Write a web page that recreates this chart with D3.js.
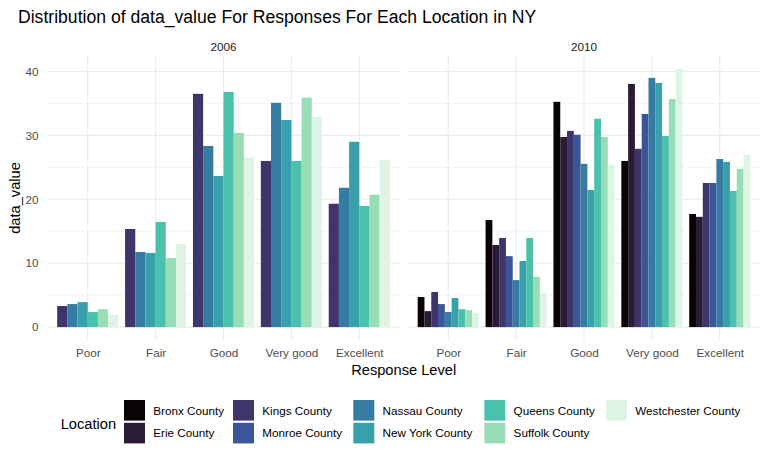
<!DOCTYPE html>
<html>
<head>
<meta charset="utf-8">
<script src="https://cdn.jsdelivr.net/npm/d3@7"></script>
<style>
  html, body { margin: 0; padding: 0; background: #ffffff; }
  svg { display: block; font-family: "Liberation Sans", Arial, sans-serif; }
</style>
</head>
<body>
<svg id="chart" width="768" height="460"></svg>
<script>
// ---------------- DATA ----------------
const responses = ["Poor", "Fair", "Good", "Very good", "Excellent"];
const years = ["2006", "2010"];
const locations = ["Bronx County", "Erie County", "Kings County", "Monroe County", "Nassau County",
                   "New York County", "Queens County", "Suffolk County", "Westchester County"];
const locationColors = ["#0B0405", "#2B1C35", "#3E356B", "#3B5698", "#357BA2",
                        "#38A0AA", "#49C1AD", "#98DDB5", "#DEF5E5"];

// 2006 values per location (Poor, Fair, Good, Very good, Excellent)
const locations2006 = ["Kings County", "Nassau County", "New York County", "Queens County", "Suffolk County", "Westchester County"];
const kings2006       = [3.3, 15.35, 36.5, 26.0, 19.3];
const nassau2006      = [3.6, 11.75, 28.35, 35.1, 21.8];
const newYork2006     = [3.9, 11.6, 23.65, 32.4, 29.0];
const queens2006      = [2.35, 16.45, 36.8, 26.0, 18.95];
const suffolk2006     = [2.8, 10.8, 30.4, 35.9, 20.7];
const westchester2006 = [1.9, 13.0, 26.5, 32.9, 26.15];

// 2010 values per location
const locations2010 = locations.slice();
const bronx2010       = [4.7, 16.75, 35.25, 26.0, 17.7];
const erie2010        = [2.5, 12.85, 29.75, 38.05, 17.25];
const kings2010       = [5.5, 13.95, 30.7, 27.9, 22.55];
const monroe2010      = [3.6, 11.1, 30.1, 33.35, 22.55];
const nassau2010      = [2.35, 7.35, 25.55, 39.0, 26.3];
const newYork2010     = [4.55, 10.35, 21.45, 38.2, 25.85];
const queens2010      = [2.8, 13.95, 32.6, 29.9, 21.3];
const suffolk2010     = [2.65, 7.85, 29.75, 35.7, 24.75];
const westchester2010 = [2.2, 5.35, 25.4, 40.4, 26.95];

const yTicks = [0, 10, 20, 30, 40];
const yMinorTicks = [5, 15, 25, 35];

// ---------------- BUILD TABLE ----------------
const series = {
  "2006": [kings2006, nassau2006, newYork2006, queens2006, suffolk2006, westchester2006],
  "2010": [bronx2010, erie2010, kings2010, monroe2010, nassau2010, newYork2010, queens2010, suffolk2010, westchester2010]
};
const locsByYear = { "2006": locations2006, "2010": locations2010 };
const rows = [];
years.forEach(yr => {
  locsByYear[yr].forEach((loc, li) => {
    responses.forEach((r, ri) => rows.push({ year: yr, location: loc, response: r, value: series[yr][li][ri] }));
  });
});

// ---------------- LAYOUT ----------------
const svg = d3.select("#chart");
const panelTop = 56, panelBottom = 340;
const panels = { "2006": [47, 400], "2010": [407.5, 760.5] };
const color = d3.scaleOrdinal().domain(locations).range(locationColors);

const maxV = d3.max(rows, d => d.value);
const y = d3.scaleLinear()
  .domain([0 - maxV * 0.05, maxV * 1.05])
  .range([panelBottom, panelTop]);

const gridCol = "#EBEBEB";
const font = "'Liberation Sans', Arial, sans-serif";

// title
svg.append("text").attr("x", 18).attr("y", 23)
  .attr("font-size", 17.6).attr("fill", "#000").text("Distribution of data_value For Responses For Each Location in NY");

years.forEach(yr => {
  const [x0, x1] = panels[yr];
  const n = responses.length;
  const step = (x1 - x0) / (n - 1 + 1.2);
  const x = d3.scalePoint().domain(responses).range([x0 + 0.6 * step, x1 - 0.6 * step]);
  const g = svg.append("g");

  // minor gridlines
  g.selectAll(".minor").data(yMinorTicks).join("line")
    .attr("x1", x0).attr("x2", x1)
    .attr("y1", d => y(d)).attr("y2", d => y(d))
    .attr("stroke", gridCol).attr("stroke-width", 0.55);
  // major gridlines
  g.selectAll(".major").data(yTicks).join("line")
    .attr("x1", x0).attr("x2", x1)
    .attr("y1", d => y(d)).attr("y2", d => y(d))
    .attr("stroke", gridCol).attr("stroke-width", 1.07);
  g.selectAll(".vgrid").data(responses).join("line")
    .attr("x1", d => x(d)).attr("x2", d => x(d))
    .attr("y1", panelTop).attr("y2", panelBottom)
    .attr("stroke", gridCol).attr("stroke-width", 1.07);

  // bars
  const locs = locsByYear[yr];
  const groupW = step * 0.9;
  const inner = d3.scaleBand().domain(locs).range([-groupW / 2, groupW / 2]).padding(0);
  g.selectAll("rect").data(rows.filter(d => d.year === yr)).join("rect")
    .attr("x", d => x(d.response) + inner(d.location))
    .attr("width", inner.bandwidth())
    .attr("y", d => y(d.value))
    .attr("height", d => y(0) - y(d.value))
    .attr("fill", d => color(d.location));

  // strip label
  svg.append("text").attr("x", (x0 + x1) / 2).attr("y", 51).attr("text-anchor", "middle")
    .attr("font-size", 11.7).attr("fill", "#1A1A1A").text(yr);

  // x axis labels
  const xa = svg.append("g").attr("transform", `translate(0,${panelBottom})`)
    .call(d3.axisBottom(x).tickSize(0).tickPadding(8.5));
  xa.select(".domain").remove();
  xa.selectAll("text").attr("font-size", 11.7).attr("fill", "#4D4D4D").attr("font-family", font);
});

// y axis labels
const ya = svg.append("g").attr("transform", `translate(${panels["2006"][0]},0)`)
  .call(d3.axisLeft(y).tickValues(yTicks).tickSize(0).tickPadding(8.5));
ya.select(".domain").remove();
ya.selectAll("text").attr("font-size", 11.7).attr("fill", "#4D4D4D").attr("font-family", font);

// axis titles
svg.append("text").attr("x", 403.7).attr("y", 375).attr("text-anchor", "middle")
  .attr("font-size", 14.67).attr("fill", "#000").text("Response Level");
svg.append("text").attr("transform", `translate(20,${(panelTop + panelBottom) / 2}) rotate(-90)`)
  .attr("text-anchor", "middle").attr("font-size", 14.67).attr("fill", "#000").text("data_value");

// ---------------- LEGEND ----------------
const leg = svg.append("g");
leg.append("text").attr("x", 60.7).attr("y", 429).attr("font-size", 14.67).attr("fill", "#000").text("Location");
const colX = [124, 233, 353.3, 484.3, 606];
const keyW = 21, keyH = 20.6, rowYs = [400, 422.8];
locations.forEach((loc, i) => {
  const c = Math.floor(i / 2), r = i % 2;
  leg.append("rect").attr("x", colX[c]).attr("y", rowYs[r]).attr("width", keyW).attr("height", keyH)
    .attr("fill", color(loc));
  leg.append("text").attr("x", colX[c] + 29.3).attr("y", rowYs[r] + keyH / 2 + 4.2)
    .attr("font-size", 11.7).attr("fill", "#000").text(loc);
});
</script>
</body>
</html>
